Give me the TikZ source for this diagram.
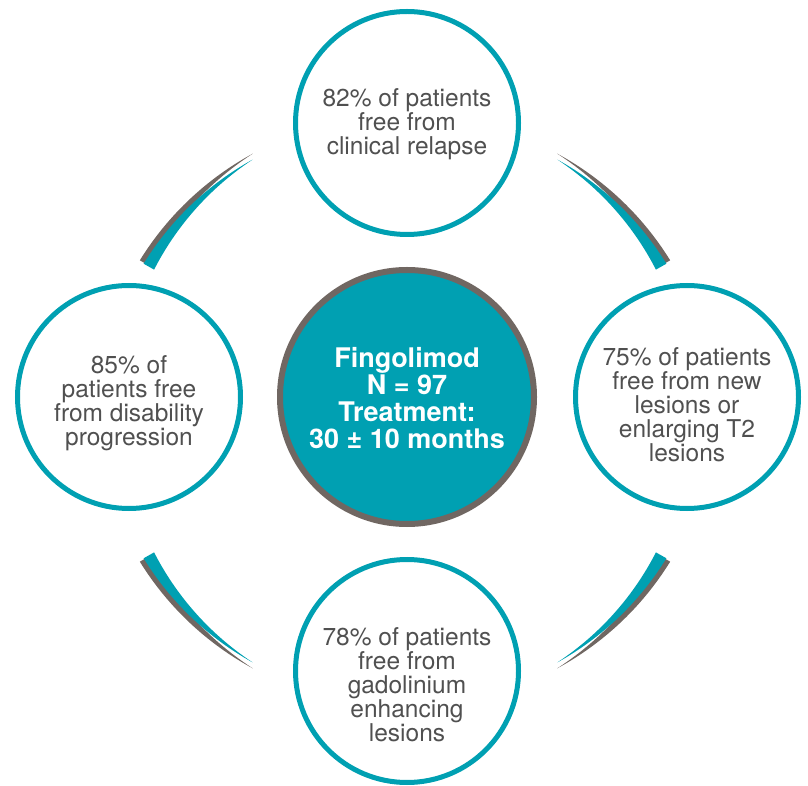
\documentclass[tikz,border=0pt]{standalone}
\usepackage{fontspec}
\setmainfont{TeX Gyre Heros}
\definecolor{ringteal}{RGB}{0, 160, 178}
\definecolor{ringgray}{RGB}{112, 103, 98}
\definecolor{bodygray}{RGB}{80, 80, 80}
\usetikzlibrary{positioning, calc}

\tikzset{
  outcome/.style={circle, draw=ringteal, line width=5pt, fill=white, minimum size=223pt,
    inner sep=0pt, align=center, text=bodygray, font=\fontsize{24.5}{24}\selectfont},
  core/.style={circle, draw=ringgray, line width=6pt, fill=ringteal, minimum size=254pt,
    inner sep=0pt, align=center, text=white, font=\bfseries\fontsize{27}{27}\selectfont}
}

% taller first line pushes the text block down inside its circle
\newcommand{\sink}[1]{\rule{0pt}{#1}}

% tapered arc: #1 thick end angle, #2 tip angle, #3 mid radius, #4 width, #5 colour
\newcommand{\crescent}[5]{%
  \fill[#5] plot[domain=#1:#2, samples=50] (\x:{#3+#4/2*(\x-(#2))/((#1)-(#2))})
    -- plot[domain=#2:#1, samples=50] (\x:{#3-#4/2*(\x-(#2))/((#1)-(#2))}) -- cycle;}

\begin{document}
\begin{tikzpicture}[x=1pt, y=1pt]
  \useasboundingbox (0,0) rectangle (808,785);

  \coordinate (ring) at (405,374);
  \begin{scope}[shift={(ring)}]
    \foreach \thick/\tip/\gthick/\gtip in {150.6/121.2/150.4/120.6, 29.4/58.8/29.6/59.4,
        209.4/238.8/209.6/239.4, 330.6/301.2/330.4/300.6} {
      \crescent{\gthick}{\gtip}{299}{12}{ringgray}
      \crescent{\thick}{\tip}{294}{12}{ringteal}
    }
  \end{scope}

  \node[core] (core) at (407,388) {\sink{22pt}Fingolimod\\N = 97\\Treatment:\\30 ± 10 months};

  \node[outcome, above=30pt of core] (relapse) {\sink{20pt}82\% of patients\\free from\\clinical relapse};
  \node[outcome, right=36pt of core] (lesions) {\sink{34pt}75\% of patients\\free from new\\lesions or\\enlarging T2\\lesions};
  \node[outcome, below=30pt of core] (gadolinium) {\sink{46pt}78\% of patients\\free from\\gadolinium\\enhancing\\lesions};
  \node[outcome, left=34pt of core] (disability) {\sink{30pt}85\% of\\patients free\\from disability\\progression};
\end{tikzpicture}
\end{document}
